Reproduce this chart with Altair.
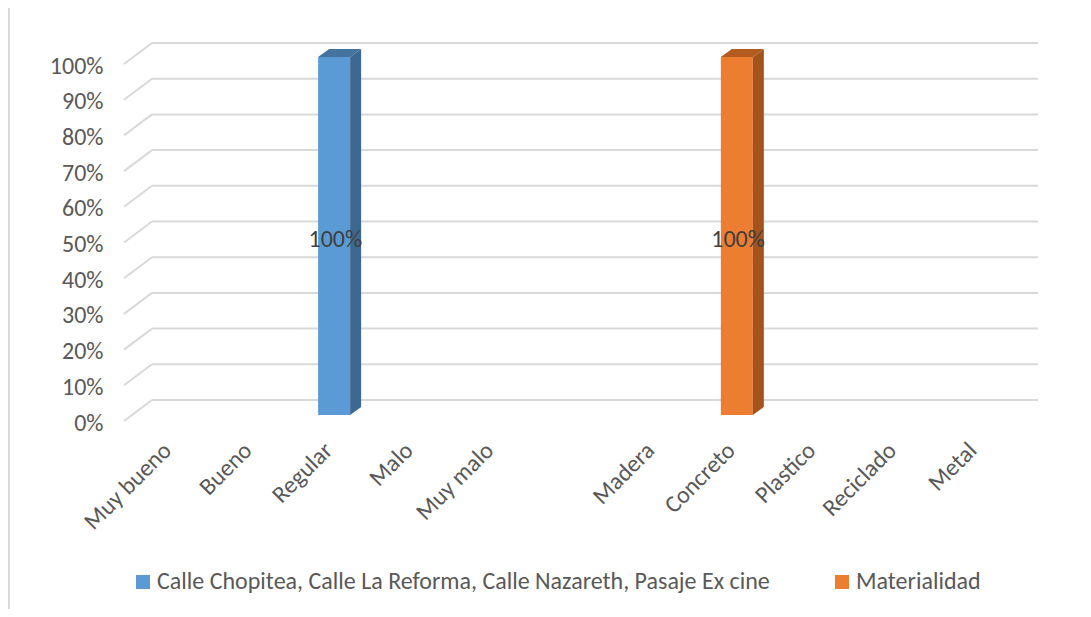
import altair as alt
import pandas as pd

# ---------------- data ----------------
categories_estado = ["Muy bueno", "Bueno", "Regular", "Malo", "Muy malo"]
spacer = [" "]
categories_material = ["Madera", "Concreto", "Plastico", "Reciclado", "Metal"]
values_estado = [0, 0, 1, 0, 0]
values_material = [0, 1, 0, 0, 0]
series_names = [
    "Calle Chopitea, Calle La Reforma, Calle Nazareth, Pasaje Ex cine",
    "Materialidad",
]
y_ticks = [0.0, 0.1, 0.2, 0.3, 0.4, 0.5, 0.6, 0.7, 0.8, 0.9, 1.0]

# ---------------- style ----------------
front_colors = ["#5b9bd5", "#ed7d31"]
side_colors = ["#3b6991", "#a4531d"]
top_colors = ["#44739f", "#b45c20"]
FONT = "Carlito, Lato, sans-serif"
FS = 24
TEXT_COLOR = "#595959"
GRID_COLOR = "#d9d9d9"

all_categories = categories_estado + spacer + categories_material

rows = []
for c, v in zip(categories_estado, values_estado):
    rows.append({"cat": c, "value": v, "series": series_names[0],
                 "side": side_colors[0], "top": top_colors[0], "base": 0})
for c, v in zip(categories_material, values_material):
    rows.append({"cat": c, "value": v, "series": series_names[1],
                 "side": side_colors[1], "top": top_colors[1], "base": 0})
df = pd.DataFrame(rows)
grid_df = pd.DataFrame({"v": y_ticks})

W, H = 886, 357
DEPTH_X, DEPTH_Y = 28, 21

yscale = alt.Scale(domain=[0, 1], nice=False, zero=True)
xscale = alt.Scale(domain=all_categories, paddingInner=0, paddingOuter=0)

y_axis = alt.Axis(values=y_ticks, format=".0%", labelFontSize=FS, labelFont=FONT,
                  labelColor=TEXT_COLOR, domain=False, ticks=False, grid=False,
                  labelPadding=21, labelOffset=2, title=None)
x_axis = alt.Axis(labelAngle=-45, labelFontSize=FS, labelFont=FONT, labelColor=TEXT_COLOR,
                  domain=False, ticks=False, grid=False, labelPadding=17,
                  labelOffset=-5, title=None)


def Y(field):
    return alt.Y(field, scale=yscale, axis=y_axis, title=None)


def X():
    return alt.X("cat:N", scale=xscale, sort=all_categories, axis=x_axis, title=None)


# ---------------- gridlines (3D wall) ----------------
grid_diag = alt.Chart(grid_df).mark_rule(
    color=GRID_COLOR, strokeWidth=2, y2Offset=-DEPTH_Y
).encode(
    x=alt.value(0), x2=alt.value(DEPTH_X),
    y=Y("v:Q"),
    y2="v:Q",
)
grid_back = alt.Chart(grid_df).mark_rule(
    color=GRID_COLOR, strokeWidth=2, yOffset=-DEPTH_Y
).encode(
    x=alt.value(DEPTH_X), x2=alt.value(W + DEPTH_X),
    y=Y("v:Q"),
)

border = alt.Chart(grid_df).mark_rule(color="#d9d9d9", strokeWidth=1.5).encode(
    x=alt.value(-115.5), y=alt.value(-56), y2=alt.value(H + 188)
)

base = alt.Chart(df).transform_filter("datum.value > 0")

front = base.mark_bar(
    width=32, xOffset=8.75, yOffset=-7, y2Offset=-6
).encode(
    x=X(),
    y=Y("value:Q"),
    y2="base:Q",
    color=alt.Color("series:N", scale=alt.Scale(domain=series_names, range=front_colors),
                    legend=alt.Legend(
                        orient="none", legendX=7, legendY=506, direction="horizontal",
                        title=None, labelFontSize=FS, labelFont=FONT, labelColor=TEXT_COLOR,
                        symbolType="square", symbolSize=196, symbolStrokeWidth=0,
                        labelOffset=2, columnPadding=60, labelLimit=2000, padding=0)),
)

side = base.mark_bar(width=11, xOffset=30.25, yOffset=-7, y2Offset=-14).encode(
    x=X(),
    y=Y("value:Q"),
    y2="base:Q",
    color=alt.Color("side:N", scale=None),
)

top_face = base.mark_point(
    shape="M-7.25,-7 L24.75,-7 L35.75,-15 L3.75,-15 Z",
    size=4, filled=True, opacity=1, strokeWidth=0,
).encode(
    x=X(),
    y=Y("value:Q"),
    color=alt.Color("top:N", scale=None),
)

side_top = base.mark_point(
    shape="M24.75,-7 L35.75,-15 L35.75,-7 Z",
    size=4, filled=True, opacity=1, strokeWidth=0,
).encode(
    x=X(),
    y=Y("value:Q"),
    color=alt.Color("side:N", scale=None),
)

side_bottom = base.mark_point(
    shape="M24.75,-14 L35.75,-14 L24.75,-6 Z",
    size=4, filled=True, opacity=1, strokeWidth=0,
).encode(
    x=X(),
    y=Y("base:Q"),
    color=alt.Color("side:N", scale=None),
)

labels = base.transform_calculate(half="datum.value / 2").mark_text(
    dx=10, dy=-3, fontSize=FS, font=FONT, color="#404040"
).encode(
    x=X(),
    y=Y("half:Q"),
    text=alt.Text("value:Q", format=".0%"),
)

chart = alt.layer(
    border, grid_diag, grid_back, front, side, top_face, side_top, side_bottom, labels
).properties(
    width=W, height=H,
    background="white",
    autosize=alt.AutoSizeParams(type="none"),
    padding={"left": 116, "top": 56, "right": 73, "bottom": 188},
).configure_view(strokeWidth=0, stroke="transparent")

chart.save("out.html", embed_options={"renderer": "svg", "actions": False})
